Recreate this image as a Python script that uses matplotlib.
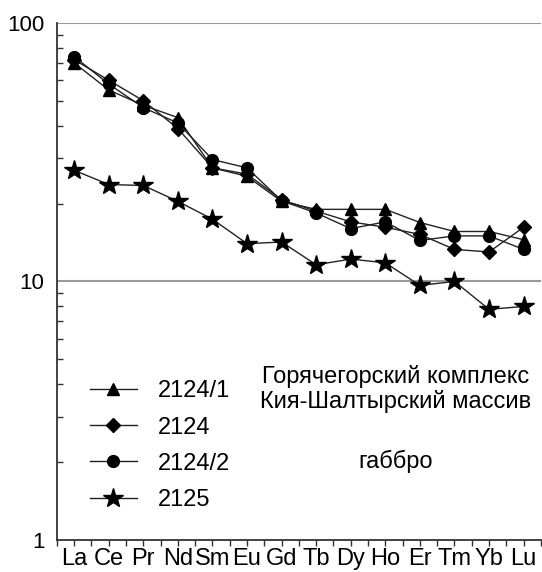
import matplotlib
matplotlib.use('Agg')
import matplotlib.pyplot as plt
import numpy as np

plt.rcParams['font.family'] = ['Liberation Sans', 'DejaVu Sans']

# элементы (REE)
elementos = ['La', 'Ce', 'Pr', 'Nd', 'Sm', 'Eu', 'Gd', 'Tb', 'Dy', 'Ho', 'Er', 'Tm', 'Yb', 'Lu']

# пробы
s2124_1 = [70, 55, 48, 43, 27.5, 25.5, 20.4, 19, 19, 19, 16.9, 15.6, 15.6, 14.5]
s2124 = [72, 60, 50, 39, 27.5, 26, 20.7, 18.7, 17, 16.2, 15.2, 13.3, 13, 16.2]
s2124_2 = [74, 58, 47, 41, 29.6, 27.5, 20.5, 18.4, 16, 17, 14.4, 15, 15, 13.3]
s2125 = [26.9, 23.7, 23.5, 20.4, 17.4, 14, 14.2, 11.6, 12.2, 11.8, 9.65, 10, 7.8, 8.0]

x = np.arange(len(elementos))

fig = plt.figure(figsize=(5.42, 5.72), dpi=100)
ax = fig.add_axes([0.105, 0.056, 0.893, 0.904])

lw = 1.0
ax.plot(x, s2124_1, color='#222222', lw=lw, marker='^', ms=8.5, mfc='black', mec='black', label='2124/1')
ax.plot(x, s2124, color='#222222', lw=lw, marker='D', ms=7, mfc='black', mec='black', label='2124')
ax.plot(x, s2124_2, color='#222222', lw=lw, marker='o', ms=8.5, mfc='black', mec='black', label='2124/2')
ax.plot(x, s2125, color='#222222', lw=lw, marker='*', ms=15, mfc='black', mec='black', label='2125')

ax.set_yscale('log')
ax.set_ylim(1, 100)
ax.set_xlim(-0.5, 13.5)

# линии сетки на 10 и 100
for yv in [10, 100]:
    ax.axhline(yv, color='#999999', lw=1.5, zorder=0)

ax.spines['top'].set_visible(False)
ax.spines['right'].set_visible(False)
ax.spines['left'].set_color('#333333')
ax.spines['bottom'].set_color('#333333')
ax.spines['left'].set_linewidth(1.3)
ax.spines['bottom'].set_linewidth(1.3)

ax.set_xticks(x)
ax.set_xticklabels(elementos, fontsize=17)
ax.set_xticks(np.arange(-0.5, 13.6, 1), minor=True)
ax.tick_params(axis='x', which='both', direction='out', length=4, width=1, color='#333333', pad=2)

ax.set_yticks([1, 10, 100])
ax.set_yticklabels(['1', '10', '100'], fontsize=16)
ax.tick_params(axis='y', which='major', length=0, pad=9)
ax.tick_params(axis='y', which='minor', direction='in', length=4, width=1, color='#333333')
ax.yaxis.set_minor_formatter(matplotlib.ticker.NullFormatter())

leg = ax.legend(loc='lower left', bbox_to_anchor=(0.048, 0.038), frameon=False, fontsize=17,
                handlelength=2.0, labelspacing=0.6, handletextpad=0.9, borderaxespad=0)

ax.text(0.70, 0.292, 'Горячегорский комплекс\nКия-Шалтырский массив', transform=ax.transAxes,
        ha='center', va='center', fontsize=17, linespacing=1.15)
ax.text(0.70, 0.151, 'габбро', transform=ax.transAxes, ha='center', va='center', fontsize=17)

plt.savefig('out.png', dpi=100)
